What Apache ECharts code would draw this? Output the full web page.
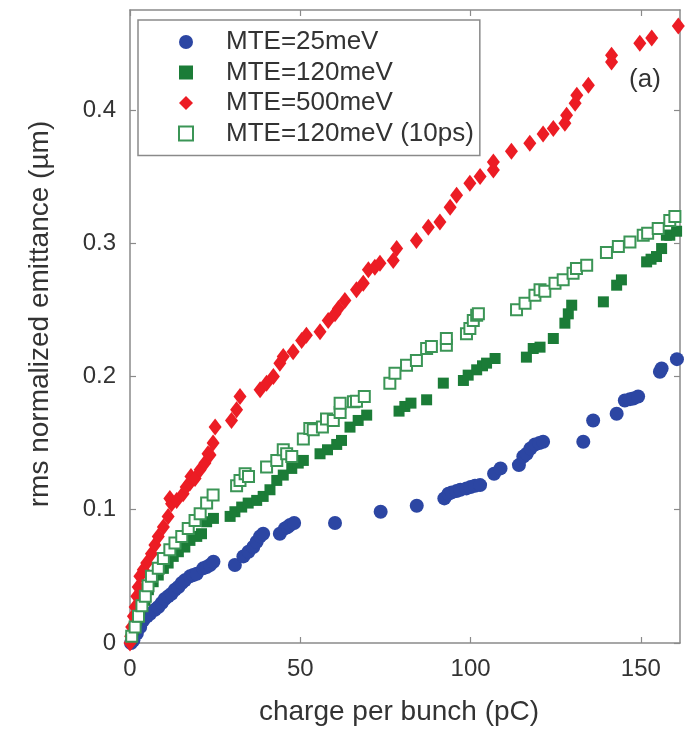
<!DOCTYPE html>
<html>
<head>
<meta charset="utf-8">
<script src="https://cdn.jsdelivr.net/npm/echarts@6/dist/echarts.min.js"></script>
<style>
html,body{margin:0;padding:0;background:#fff;}
#chart{width:685px;height:739px;}
</style>
</head>
<body>
<div id="chart"></div>
<script>
// ---- data (charge per bunch in pC, emittance in µm) ----
const xTicks = [0, 50, 100, 150];
const yTicks = [0, 0.1, 0.2, 0.3, 0.4];
const seriesNames = ['MTE=25meV', 'MTE=120meV', 'MTE=500meV', 'MTE=120meV (10ps)'];
const xTitle = 'charge per bunch (pC)';
const yTitle = 'rms normalized emittance (\u00b5m)';
const panelLabel = '(a)';

const mte25X = [0.3,1.0,2.0,3.0,3.9,5.0,5.9,7.3,8.3,9.3,10.2,11.2,12.2,13.2,14.2,15.2,16.1,17.6,18.6,19.6,21.5,22.5,23.5,24.5,30.8,33.3,34.8,36.2,37.2,38.2,39.1,44.0,45.5,46.3,47.0,48.2,60.2,73.6,84.2,92.3,93.5,94.5,95.9,97.0,98.8,100.0,101.3,102.8,106.9,108.8,114.2,115.5,116.5,117.6,118.9,120.2,121.3,133.1,136.0,142.9,145.3,146.8,147.8,149.2,155.6,156.1,160.6];
const mte25Y = [0.0,0.002,0.007,0.012,0.017,0.02,0.022,0.025,0.027,0.030,0.033,0.035,0.037,0.040,0.042,0.045,0.047,0.050,0.051,0.052,0.056,0.057,0.0585,0.061,0.0585,0.065,0.0685,0.072,0.076,0.080,0.082,0.082,0.086,0.087,0.0885,0.090,0.090,0.0985,0.103,0.1085,0.112,0.113,0.114,0.115,0.116,0.117,0.118,0.1185,0.127,0.131,0.1335,0.140,0.142,0.146,0.149,0.150,0.151,0.151,0.167,0.172,0.182,0.183,0.1835,0.185,0.2035,0.206,0.213];

const mte120X = [0.3,1.0,2.0,2.9,4.4,5.4,6.8,8.3,9.8,11.2,12.7,14.2,16.1,17.6,19.6,21.0,22.5,24.5,29.4,30.8,32.8,34.7,37.2,39.1,41.1,43.1,45.0,47.5,49.4,50.9,55.8,58.0,60.7,62.1,64.6,67.0,69.5,79.0,80.7,82.5,87.1,92.0,97.9,99.3,101.8,103.5,104.7,107.2,116.4,118.4,120.4,124.3,127.7,128.7,129.7,139.0,142.9,144.3,151.7,153.0,154.6,156.1,157.5,158.5,160.5];
const mte120Y = [0.003,0.0098,0.017,0.025,0.032,0.040,0.046,0.051,0.056,0.060,0.065,0.0685,0.072,0.077,0.080,0.082,0.091,0.0935,0.095,0.0985,0.102,0.105,0.107,0.110,0.115,0.122,0.126,0.131,0.135,0.137,0.142,0.145,0.149,0.152,0.162,0.167,0.171,0.174,0.1775,0.180,0.1825,0.195,0.197,0.201,0.205,0.208,0.21,0.2135,0.2145,0.221,0.222,0.2285,0.24,0.247,0.2535,0.256,0.2685,0.2725,0.286,0.288,0.29,0.296,0.306,0.306,0.309];

const mte500X = [0.0,0.2,0.5,1.0,1.5,2.0,2.4,2.9,3.9,4.9,6.3,7.3,8.3,9.8,11.2,11.7,12.2,13.7,15.6,16.5,17.6,17.9,19.1,20.6,22.0,22.9,23.5,24.4,25.0,29.8,31.3,32.3,38.2,40.1,42.1,44.0,45.0,47.9,50.4,51.8,55.8,58.2,60.2,61.2,63.1,66.5,68.5,70.0,71.9,73.4,77.3,78.3,84.1,87.6,91.0,94.0,95.9,99.8,102.8,106.7,106.7,112.0,117.4,121.3,124.3,127.7,128.2,130.7,131.2,134.6,141.4,141.4,149.7,153.2,161.0];
const mte500Y = [0.0,0.005,0.012,0.02,0.027,0.035,0.042,0.05,0.055,0.06,0.067,0.0735,0.08,0.087,0.095,0.1085,0.1045,0.107,0.112,0.117,0.12,0.125,0.1235,0.13,0.135,0.142,0.141,0.15,0.162,0.167,0.175,0.185,0.19,0.195,0.2,0.21,0.215,0.2185,0.227,0.231,0.2335,0.242,0.247,0.251,0.257,0.265,0.27,0.28,0.282,0.285,0.287,0.296,0.302,0.312,0.316,0.327,0.336,0.345,0.35,0.355,0.361,0.369,0.375,0.382,0.386,0.39,0.396,0.405,0.411,0.4185,0.436,0.441,0.45,0.454,0.463];

const mte120psX = [0.5,1.5,2.5,3.5,4.5,5.3,6.3,8.3,9.8,11.7,13.2,15.2,17.1,19.1,20.6,22.5,24.4,31.3,32.3,33.8,34.8,40.1,43.1,45.0,46.0,47.5,50.9,52.8,53.8,56.5,57.7,59.7,61.7,61.7,65.6,66.5,68.8,76.3,77.8,81.2,84.1,87.1,88.5,92.9,92.9,98.8,99.8,100.8,101.8,102.3,113.5,116.0,118.9,120.4,121.8,124.8,127.2,130.1,131.1,134.1,139.9,143.4,146.8,150.7,152.0,155.1,158.5,160.0];
const mte120psY = [0.005,0.012,0.02,0.028,0.035,0.043,0.050,0.056,0.0635,0.070,0.075,0.080,0.086,0.092,0.097,0.105,0.111,0.118,0.122,0.127,0.125,0.132,0.137,0.145,0.142,0.140,0.153,0.161,0.160,0.162,0.168,0.167,0.173,0.180,0.181,0.1815,0.185,0.195,0.2025,0.2085,0.212,0.221,0.2225,0.2235,0.2285,0.232,0.236,0.242,0.246,0.247,0.25,0.255,0.261,0.265,0.264,0.27,0.2725,0.2775,0.281,0.2835,0.293,0.2975,0.301,0.306,0.3075,0.311,0.317,0.32];

function zip(xs, ys) { return xs.map((x, i) => [x, ys[i]]); }

const FONT = 'Liberation Sans, Arial, Helvetica, sans-serif';
const TXT = '#333';
const AX = '#8a8a8a';

const chart = echarts.init(document.getElementById('chart'), null, {renderer: 'canvas'});

function xAx(pos, show) {
  return {
    type: 'value', position: pos, min: 0, max: 161.5, interval: 50,
    axisLine: {show: true, onZero: false, lineStyle: {color: AX, width: 1.5}},
    axisTick: {show: true, inside: true, length: 6, lineStyle: {color: AX, width: 1.2},
      customValues: xTicks},
    axisLabel: {show: show, fontSize: 24, color: TXT, fontFamily: FONT, margin: 14,
      customValues: xTicks},
    splitLine: {show: false}
  };
}
function yAx(pos, show) {
  return {
    type: 'value', position: pos, min: 0, max: 0.475, interval: 0.1,
    axisLine: {show: true, onZero: false, lineStyle: {color: AX, width: 1.5}},
    axisTick: {show: true, inside: true, length: 6, lineStyle: {color: AX, width: 1.2},
      customValues: yTicks},
    axisLabel: {show: show, fontSize: 24, color: TXT, fontFamily: FONT, margin: 14,
      customValues: yTicks,
      formatter: v => (v === 0 ? '0' : v.toFixed(1))},
    splitLine: {show: false}
  };
}

const option = {
  backgroundColor: '#fff',
  animation: false,
  grid: {left: 130, right: 5, top: 10, bottom: 96, containLabel: false},
  xAxis: [xAx('bottom', true), xAx('top', false)],
  yAxis: [yAx('left', true), yAx('right', false)],
  legend: {
    orient: 'vertical', left: 138, top: 20,
    padding: [9, 6, 9, 40], itemGap: 4.5, itemWidth: 14, itemHeight: 14,
    borderColor: AX, borderWidth: 1.5, backgroundColor: '#fff',
    textStyle: {fontSize: 26, color: TXT, fontFamily: FONT, lineHeight: 26, padding: [0, 0, 0, 28]},
    data: [
      {name: seriesNames[0], icon: 'circle'},
      {name: seriesNames[1], icon: 'rect'},
      {name: seriesNames[2], icon: 'diamond'},
      {name: seriesNames[3], icon: 'emptyRect'}
    ]
  },
  graphic: [
    {type: 'text', x: 645, y: 80,
      style: {text: panelLabel, fontSize: 26, fill: TXT, fontFamily: FONT,
        textAlign: 'center', textVerticalAlign: 'middle'}},
    {type: 'text', x: 399, y: 712,
      style: {text: xTitle, fontSize: 28, fill: TXT, fontFamily: FONT,
        textAlign: 'center', textVerticalAlign: 'middle'}},
    {type: 'text', x: 40, y: 314, rotation: Math.PI / 2,
      style: {text: yTitle, fontSize: 28, fill: TXT, fontFamily: FONT,
        textAlign: 'center', textVerticalAlign: 'middle'}}
  ],
  series: [
    {name: seriesNames[0], type: 'scatter', data: zip(mte25X, mte25Y),
      symbol: 'circle', symbolSize: 14, itemStyle: {color: '#2c46a3', opacity: 1}},
    {name: seriesNames[1], type: 'scatter', data: zip(mte120X, mte120Y),
      symbol: 'rect', symbolSize: 11, itemStyle: {color: '#1b7c37', opacity: 1}},
    {name: seriesNames[2], type: 'scatter', data: zip(mte500X, mte500Y),
      symbol: 'diamond', symbolSize: [13, 17], itemStyle: {color: '#ec1c24', opacity: 1}},
    {name: seriesNames[3], type: 'scatter', data: zip(mte120psX, mte120psY),
      symbol: 'emptyRect', symbolSize: 11,
      itemStyle: {color: '#3b9556', borderColor: '#3b9556', borderWidth: 1, opacity: 1}}
  ]
};
chart.setOption(option);
</script>
</body>
</html>
